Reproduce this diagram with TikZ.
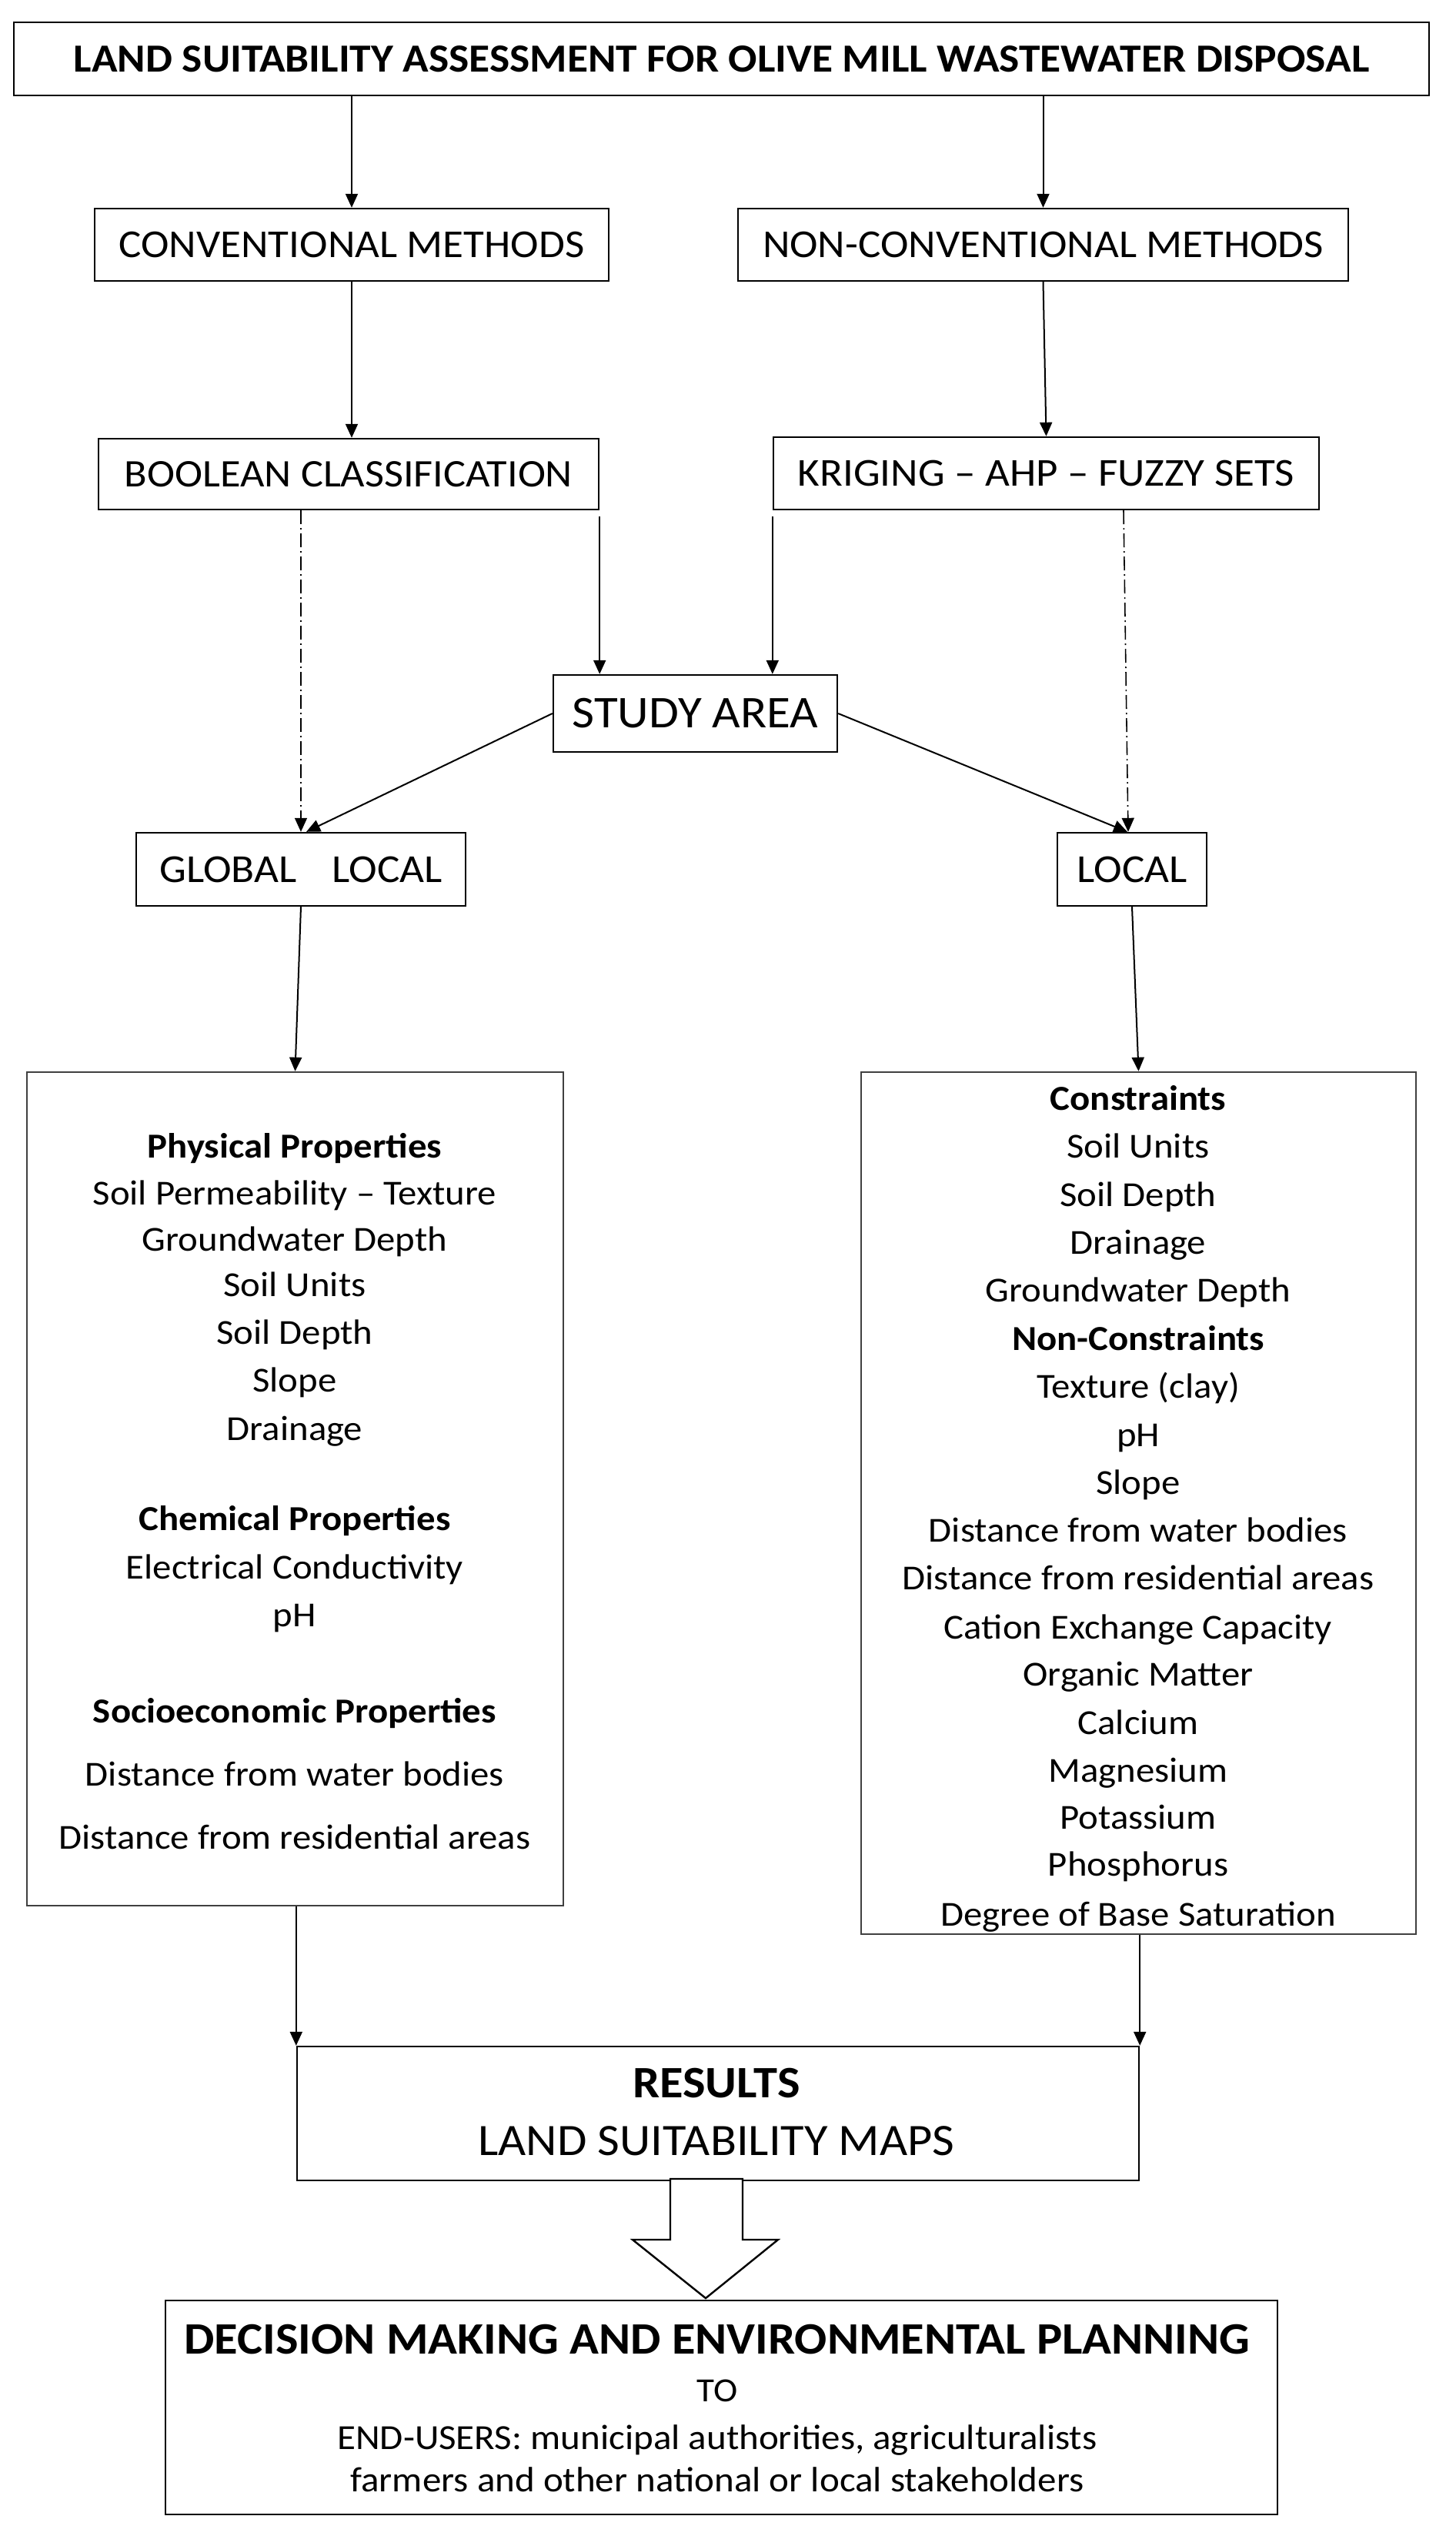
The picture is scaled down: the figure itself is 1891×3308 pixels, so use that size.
\documentclass[tikz,border=0pt]{standalone}
\usepackage{fontspec}
\setmainfont[FakeStretch=1.07]{Carlito}
\usetikzlibrary{arrows.meta,calc}
\begin{document}
\begin{tikzpicture}[x=0.5pt,y=-0.5pt,
  box/.style={draw, line width=1.2pt, inner sep=0pt, anchor=center, align=center},
  bigbox/.style={draw=black!75, line width=1.2pt, inner sep=0pt, anchor=center},
  txt/.style={inner sep=0pt, anchor=base, font=\fontsize{22.8}{27}\selectfont},
  arr/.style={line width=1pt, -{Triangle[length=9pt,width=8pt]}},
  dd/.style={line width=0.8pt, dash pattern=on 9pt off 2.5pt on 1pt off 2.5pt, -{Triangle[length=9pt,width=8pt]}}
]
\useasboundingbox (0,0) rectangle (1891,3308);

% boxes
\node[box, minimum width=919.5pt, minimum height=47.5pt, font=\fontsize{25.9}{30}\selectfont\bfseries] (title) at (937.5,76.5) {LAND SUITABILITY ASSESSMENT FOR OLIVE MILL WASTEWATER DISPOSAL};
\node[box, minimum width=334pt, minimum height=47pt, font=\fontsize{25.7}{30}\selectfont] (conv) at (457,318) {CONVENTIONAL METHODS};
\node[box, minimum width=396.5pt, minimum height=47pt, font=\fontsize{25.7}{30}\selectfont] (nonconv) at (1355.5,318) {NON-CONVENTIONAL METHODS};
\node[box, minimum width=325pt, minimum height=46pt, font=\fontsize{25.4}{30}\selectfont] (boolean) at (453,616) {BOOLEAN CLASSIFICATION};
\node[box, minimum width=354.5pt, minimum height=47pt, font=\fontsize{25.7}{30}\selectfont] (kriging) at (1359.5,615) {KRIGING – AHP – FUZZY SETS};
\node[box, minimum width=184.5pt, minimum height=50pt, font=\fontsize{29.5}{34}\selectfont] (study) at (903.5,927) {STUDY AREA};
\node[box, minimum width=214pt, minimum height=47.5pt, font=\fontsize{25.8}{30}\selectfont] (global) at (391,1129.5) {GLOBAL\hspace{0.9em}LOCAL};
\node[box, minimum width=97pt, minimum height=47.5pt, font=\fontsize{25.8}{30}\selectfont] (local) at (1471,1129.5) {LOCAL};
\node[bigbox, minimum width=348.5pt, minimum height=541.5pt] (left) at (383.5,1934.5) {};
\node[bigbox, minimum width=360.5pt, minimum height=560pt] (right) at (1479.5,1953) {};
\node[box, minimum width=547pt, minimum height=87pt] (results) at (933,2746) {};
\node[box, minimum width=722.5pt, minimum height=139pt] (decision) at (937.5,3128) {};

% left list
\node[txt] (l1) at (383,1504) {\textbf{Physical Properties}};
\node[txt] (l2) at (383,1565) {Soil Permeability – Texture};
\node[txt] (l3) at (383,1625) {Groundwater Depth};
\node[txt] (l4) at (383,1684) {Soil Units};
\node[txt] (l5) at (383,1746) {Soil Depth};
\node[txt] (l6) at (383,1808) {Slope};
\node[txt] (l7) at (383,1871) {Drainage};
\node[txt] (l8) at (383,1988) {\textbf{Chemical Properties}};
\node[txt] (l9) at (383,2051) {Electrical Conductivity};
\node[txt] (l10) at (383,2113) {pH};
\node[txt] (l11) at (383,2238) {\textbf{Socioeconomic Properties}};
\node[txt] (l12) at (383,2320) {Distance from water bodies};
\node[txt] (l13) at (383,2402) {Distance from residential areas};

% right list
\node[txt] (r1) at (1479,1442) {\textbf{Constraints}};
\node[txt] (r2) at (1479,1504) {Soil Units};
\node[txt] (r3) at (1479,1567) {Soil Depth};
\node[txt] (r4) at (1479,1629) {Drainage};
\node[txt] (r5) at (1479,1691) {Groundwater Depth};
\node[txt] (r6) at (1479,1754) {\textbf{Non-Constraints}};
\node[txt] (r7) at (1479,1816) {Texture (clay)};
\node[txt] (r8) at (1479,1879) {pH};
\node[txt] (r9) at (1479,1941) {Slope};
\node[txt] (r10) at (1479,2003) {Distance from water bodies};
\node[txt] (r11) at (1479,2065) {Distance from residential areas};
\node[txt] (r12) at (1479,2129) {Cation Exchange Capacity};
\node[txt] (r13) at (1479,2190) {Organic Matter};
\node[txt] (r14) at (1479,2253) {Calcium};
\node[txt] (r15) at (1479,2315) {Magnesium};
\node[txt] (r16) at (1479,2376) {Potassium};
\node[txt] (r17) at (1479,2437) {Phosphorus};
\node[txt] (r18) at (1479,2502) {Degree of Base Saturation};

% results text
\node[txt, font=\fontsize{29.2}{34}\selectfont\bfseries] (res1) at (931,2725) {RESULTS};
\node[txt, font=\fontsize{29.2}{34}\selectfont] (res2) at (931,2800) {LAND SUITABILITY MAPS};

% decision text
\node[txt, font=\fontsize{29.2}{34}\selectfont\bfseries] (dec1) at (932,3058) {DECISION MAKING AND ENVIRONMENTAL PLANNING};
\node[txt, font=\fontsize{22}{26}\selectfont] (dec2) at (932,3120) {TO};
\node[txt, font=\fontsize{22.9}{27}\selectfont] (dec3) at (932,3182) {END-USERS: municipal authorities, agriculturalists};
\node[txt, font=\fontsize{22.9}{27}\selectfont] (dec4) at (932,3237) {farmers and other national or local stakeholders};

% connectors
\draw[arr] (conv.north |- title.south) -- (conv.north);
\draw[arr] (nonconv.north |- title.south) -- (nonconv.north);
\draw[arr] (conv.south) -- (conv.south |- boolean.north);
\draw[arr] (nonconv.south) -- (kriging.north);
\draw[arr] ($(boolean.south east)+(0,8)$) -- (boolean.south east |- study.north);
\draw[arr] ($(kriging.south west)+(0,8)$) -- (kriging.south west |- study.north);
\draw[dd] (global.north |- boolean.south) -- (global.north);
\draw[dd] ($(local.north |- kriging.south)+(-11,0)$) -- ($(local.north)+(-5,0)$);
\draw[arr] (study.west) -- ($(global.north)+(7,0)$);
\draw[arr] (study.east) -- ($(local.north)+(-6,0)$);
\draw[arr] (global.south) -- (left.north);
\draw[arr] (local.south) -- (right.north);
\draw[arr] (results.north west |- left.south) -- (results.north west);
\draw[arr] (results.north east |- right.south) -- (results.north east);

% block arrow
\draw[line width=1.2pt, fill=white, line join=miter]
  (871,2831) -- (871,2910) -- (822,2910) -- (917,2986) -- (1011,2910) -- (965,2910) -- (965,2831) -- cycle;
\end{tikzpicture}
\end{document}
